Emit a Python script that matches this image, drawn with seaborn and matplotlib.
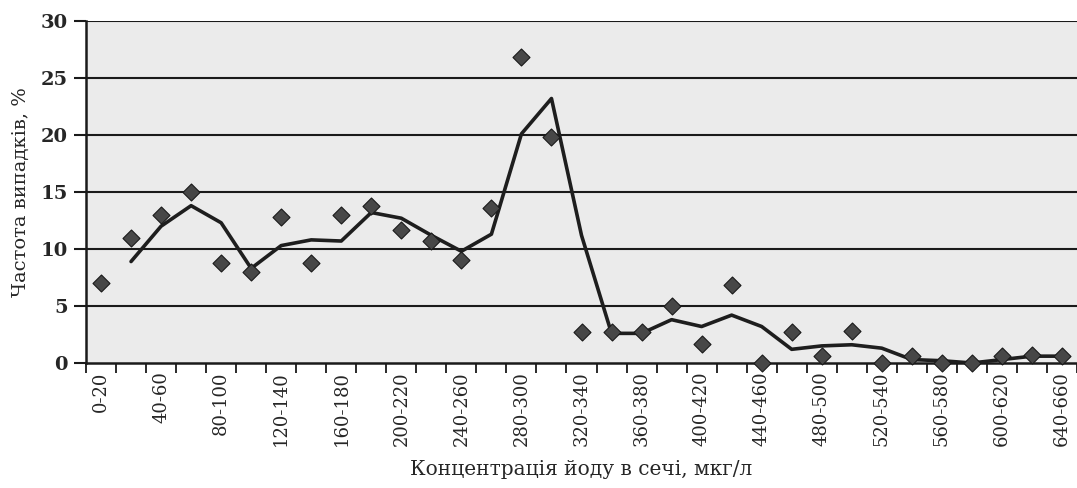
import matplotlib
matplotlib.use("Agg")
import matplotlib.pyplot as plt
import seaborn as sns
import pandas as pd
import numpy as np

categories = ["0-20", "20-40", "40-60", "60-80", "80-100", "100-120", "120-140",
              "140-160", "160-180", "180-200", "200-220", "220-240", "240-260",
              "260-280", "280-300", "300-320", "320-340", "340-360", "360-380",
              "380-400", "400-420", "420-440", "440-460", "460-480", "480-500",
              "500-520", "520-540", "540-560", "560-580", "580-600", "600-620",
              "620-640", "640-660"]
frequency = [7, 11, 13, 15, 8.8, 8, 12.8, 8.8, 13, 13.8, 11.7, 10.7, 9, 13.6,
             26.8, 19.8, 2.7, 2.7, 2.7, 5, 1.7, 6.8, 0, 2.7, 0.6, 2.8, 0, 0.6,
             0, 0, 0.6, 0.7, 0.6]
trend = [np.nan, 8.9, 12, 13.8, 12.3, 8.3, 10.3, 10.8, 10.7, 13.2, 12.7, 11.2,
         9.8, 11.3, 20.1, 23.2, 11.2, 2.6, 2.6, 3.8, 3.2, 4.2, 3.2, 1.2, 1.5,
         1.6, 1.3, 0.3, 0.2, 0.0, 0.3, 0.6, 0.6]
y_ticks = [0, 5, 10, 15, 20, 25, 30]

df = pd.DataFrame({"idx": range(len(categories)), "cat": categories,
                   "freq": frequency, "trend": trend})

sns.set_theme(style="white")
plt.rcParams["font.family"] = ["DejaVu Serif"]

fig = plt.figure(figsize=(10.77, 4.88), dpi=100)
ax = fig.add_axes([86 / 1077, (488 - 363) / 488, (1077 - 86) / 1077, (363 - 21) / 488])
ax.set_facecolor("#ebebeb")

for y in y_ticks[1:]:
    ax.axhline(y, color="#1a1a1a", lw=1.5, zorder=1)

sns.lineplot(data=df, x="idx", y="trend", ax=ax, color="#1e1e1e", lw=2.6,
             zorder=3, legend=False)
sns.scatterplot(data=df, x="idx", y="freq", ax=ax, marker="D", s=75,
                color="#474747", edgecolor="#1a1a1a", linewidth=0.8,
                zorder=4, legend=False, clip_on=False)

ax.set_xlim(-0.5, -0.5 + 991 / 30.16)
ax.set_ylim(0, 30)
ax.set_yticks(y_ticks)
ax.set_yticklabels([str(v) for v in y_ticks], fontsize=14, fontweight="bold")

ax.set_xticks(range(0, len(categories), 2))
ax.set_xticklabels(categories[::2], rotation=90, fontsize=13)
ax.set_xticks(np.arange(-0.5, len(categories), 1), minor=True)
ax.tick_params(axis="x", which="major", length=0, pad=6)
ax.tick_params(axis="x", which="minor", length=7, width=1.3, color="#1a1a1a",
               direction="out", bottom=True)
ax.tick_params(axis="y", length=9, width=1.5, color="#1a1a1a", direction="out",
               left=True, pad=4)

for side in ["top", "right"]:
    ax.spines[side].set_visible(False)
for side in ["left", "bottom"]:
    ax.spines[side].set_visible(True)
    ax.spines[side].set_color("#1a1a1a")
    ax.spines[side].set_linewidth(1.8)

ax.set_xlabel("Концентрація йоду в сечі, мкг/л", fontsize=14.5, labelpad=10)
ax.set_ylabel("Частота випадків, %", fontsize=14, labelpad=8)

fig.savefig("out.png", dpi=100, facecolor="white")
